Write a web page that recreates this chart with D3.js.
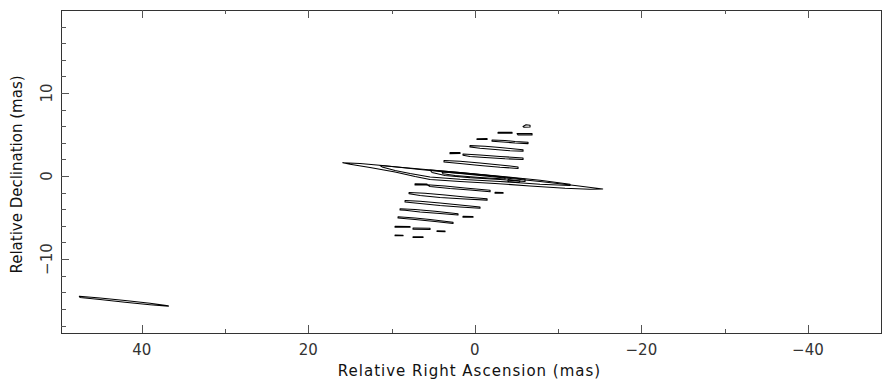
<!DOCTYPE html>
<html>
<head>
<meta charset="utf-8">
<script src="https://cdn.jsdelivr.net/npm/d3@7"></script>
<style>
  html, body { margin: 0; padding: 0; background: #fff; }
  svg { display: block; }
  .tick-label { font-family: "DejaVu Sans", sans-serif; font-size: 15px; fill: #333; }
  .axis-title { font-family: "DejaVu Sans", sans-serif; font-size: 15px; fill: #111; }
</style>
</head>
<body>
<div id="map"></div>
<script>
// tick values (mas)
var xMajorTicks = [40, 20, 0, -20, -40];
var xMinorTicks = [30, 10, -10, -30];
var yMajorTicks = [10, 0, -10];
var yMinorTicks = [18, 16, 14, 12, 8, 6, 4, 2, -2, -4, -6, -8, -12, -14, -16, -18];

// contour rings, [relative RA, relative Dec] in mas
var coreContours = [
  [[15.86, 1.61], [13.79, 1.51], [10.78, 1.24], [6.58, 0.79], [1.78, 0.31], [-3.03, -0.17], [-7.83, -0.65], [-12.03, -1.13], [-15.36, -1.55],
   [-13.83, -1.59], [-10.83, -1.47], [-6.63, -1.19], [-2.43, -0.89], [1.78, -0.65], [5.38, -0.41], [7.18, -0.05], [9.58, 0.49], [12.59, 1.04], [14.99, 1.42]],
  [[11.38, 1.28], [6.58, 0.86], [1.78, 0.43], [-3.03, -0.02], [-7.83, -0.51], [-11.43, -0.99],
   [-11.43, -1.13], [-7.83, -0.99], [-3.03, -0.65], [1.78, -0.39], [5.38, -0.11], [7.78, 0.31], [9.58, 0.67], [11.14, 1.10]],
  [[5.38, 0.73], [1.78, 0.41], [-3.03, -0.05], [-6.03, -0.39],
   [-6.03, -0.65], [-3.03, -0.41], [0.58, -0.19], [3.58, 0.07], [5.14, 0.43]],
  [[3.94, 0.49], [0.58, 0.25], [-1.83, 0.04], [-3.63, -0.17],
   [-3.63, -0.35], [-0.62, -0.17], [2.38, 0.07], [3.82, 0.28]],
  [[-3.99, -0.41], [-5.43, -0.59], [-5.31, -0.77], [-3.99, -0.65]]
];

var northStripes = [
  [[-5.79, 5.97], [-6.15, 6.18], [-6.63, 6.12], [-6.63, 5.91], [-5.91, 5.88]],
  [[-2.79, 5.28], [-4.47, 5.28], [-4.47, 5.15], [-2.79, 5.17]],
  [[-5.07, 5.11], [-6.87, 5.13], [-6.87, 4.95], [-5.19, 4.95]],
  [[-0.26, 4.50], [-1.47, 4.53], [-1.47, 4.41], [-0.26, 4.40]],
  [[-2.07, 4.35], [-3.63, 4.29], [-4.83, 4.17], [-6.39, 4.08], [-6.39, 3.91], [-4.83, 3.99], [-3.39, 4.11], [-2.07, 4.20]],
  [[0.58, 3.67], [-1.22, 3.59], [-3.03, 3.44], [-4.83, 3.26], [-5.79, 3.17], [-5.79, 3.00], [-4.23, 3.05], [-2.43, 3.20], [-0.62, 3.35], [0.58, 3.50]],
  [[2.98, 2.83], [1.78, 2.83], [1.78, 2.71], [2.98, 2.70]],
  [[1.42, 2.66], [-0.62, 2.54], [-3.03, 2.36], [-5.79, 2.18], [-5.79, 2.00], [-3.63, 2.08], [-1.22, 2.24], [0.58, 2.36], [1.42, 2.51]],
  [[3.70, 1.88], [1.78, 1.78], [-0.62, 1.58], [-3.03, 1.34], [-5.19, 1.10], [-5.19, 0.92], [-3.03, 1.06], [-0.62, 1.28], [1.78, 1.52], [3.70, 1.70]]
];

var southStripes = [
  [[7.18, -0.93], [5.74, -0.95], [5.74, -1.07], [7.18, -1.07]],
  [[5.74, -1.05], [3.58, -1.19], [1.18, -1.43], [-1.83, -1.71], [-1.83, -1.88], [0.58, -1.67], [2.98, -1.49], [5.38, -1.25]],
  [[-2.43, -1.95], [-3.39, -1.98], [-3.39, -2.07], [-2.43, -2.06]],
  [[7.90, -1.98], [5.98, -2.07], [3.58, -2.28], [1.18, -2.52], [-1.47, -2.73], [-1.47, -2.90], [1.18, -2.76], [4.18, -2.58], [6.58, -2.34], [7.90, -2.13]],
  [[8.38, -2.94], [6.58, -3.04], [4.18, -3.24], [1.78, -3.48], [-0.62, -3.72], [-0.62, -3.88], [1.78, -3.72], [4.18, -3.54], [6.58, -3.30], [8.38, -3.12]],
  [[8.98, -3.93], [7.18, -4.02], [4.78, -4.24], [2.02, -4.54], [2.02, -4.69], [4.18, -4.50], [6.58, -4.32], [8.38, -4.12], [8.98, -4.08]],
  [[1.42, -4.84], [0.22, -4.87], [0.22, -4.96], [1.42, -4.95]],
  [[9.22, -4.90], [7.18, -5.05], [5.38, -5.23], [2.62, -5.56], [2.62, -5.71], [4.78, -5.47], [7.18, -5.23], [9.22, -5.05]],
  [[9.58, -6.05], [7.78, -6.07], [7.78, -6.17], [9.58, -6.15]],
  [[7.42, -6.25], [5.38, -6.29], [5.38, -6.43], [7.42, -6.41]],
  [[4.54, -6.58], [3.58, -6.61], [3.58, -6.70], [4.54, -6.67]],
  [[9.58, -7.09], [8.62, -7.12], [8.62, -7.19], [9.58, -7.19]],
  [[7.42, -7.30], [6.22, -7.31], [6.22, -7.40], [7.42, -7.40]]
];

var southeastKnot = [
  [[47.50, -14.48], [45.01, -14.68], [42.01, -14.98], [39.01, -15.32], [36.81, -15.61],
   [36.81, -15.68], [39.01, -15.50], [42.01, -15.19], [45.01, -14.86], [47.41, -14.62]]
];

var width = 883, height = 381;
var margin = {top: 10, right: 1, bottom: 48, left: 61};
var plotW = width - margin.left - margin.right;
var plotH = height - margin.top - margin.bottom;

// RA increases to the left
var x = d3.scaleLinear().domain([49.7, -48.9]).range([0, plotW]);
var y = d3.scaleLinear().domain([-18.9, 20.0]).range([plotH, 0]);

var svg = d3.select("#map")
  .append("svg")
  .attr("width", width)
  .attr("height", height)
  .append("g")
  .attr("transform", "translate(" + margin.left + "," + margin.top + ")");

var ring = d3.line()
  .x(function(d) { return x(d[0]); })
  .y(function(d) { return y(d[1]); })
  .curve(d3.curveLinearClosed);

var allRings = coreContours.concat(northStripes, southStripes, southeastKnot);

svg.append("g")
  .selectAll("path")
  .data(allRings)
  .enter().append("path")
  .attr("d", ring)
  .attr("fill", "none")
  .attr("stroke", "#000")
  .attr("stroke-width", 1.1)
  .attr("stroke-linejoin", "round");

// frame
svg.append("rect")
  .attr("x", 0.5).attr("y", 0.5)
  .attr("width", plotW - 1).attr("height", plotH)
  .attr("fill", "none")
  .attr("stroke", "#333")
  .attr("stroke-width", 1);

var tickColor = "#555";

// x ticks, bottom and top
function xTicks(values, len) {
  svg.append("g").selectAll("line").data(values).enter().append("line")
    .attr("x1", function(d) { return Math.round(x(d)) + 0.5; })
    .attr("x2", function(d) { return Math.round(x(d)) + 0.5; })
    .attr("y1", plotH).attr("y2", plotH - len)
    .attr("stroke", tickColor);
  svg.append("g").selectAll("line").data(values).enter().append("line")
    .attr("x1", function(d) { return Math.round(x(d)) + 0.5; })
    .attr("x2", function(d) { return Math.round(x(d)) + 0.5; })
    .attr("y1", 0).attr("y2", len)
    .attr("stroke", tickColor);
}
xTicks(xMajorTicks, 8);
xTicks(xMinorTicks, 4);

// y ticks on the left
function yTicks(values, len) {
  svg.append("g").selectAll("line").data(values).enter().append("line")
    .attr("x1", 0).attr("x2", len)
    .attr("y1", function(d) { return Math.round(y(d)) + 0.5; })
    .attr("y2", function(d) { return Math.round(y(d)) + 0.5; })
    .attr("stroke", tickColor);
}
yTicks(yMajorTicks, 8);
yTicks(yMinorTicks, 5);

var fmt = function(d) { return d < 0 ? "\u2212" + Math.abs(d) : String(d); };

svg.append("g").selectAll("text").data(xMajorTicks).enter().append("text")
  .attr("class", "tick-label")
  .attr("x", function(d) { return x(d); })
  .attr("y", plotH + 22)
  .attr("text-anchor", "middle")
  .text(fmt);

svg.append("g").selectAll("text").data(yMajorTicks).enter().append("text")
  .attr("class", "tick-label")
  .attr("transform", function(d) { return "translate(-9," + y(d) + ") rotate(-90)"; })
  .attr("text-anchor", "middle")
  .text(fmt);

svg.append("text")
  .attr("class", "axis-title")
  .attr("x", plotW / 2 - 2)
  .attr("y", plotH + 43)
  .attr("text-anchor", "middle")
  .style("letter-spacing", "1px")
  .text("Relative Right Ascension (mas)");

svg.append("text")
  .attr("class", "axis-title")
  .attr("transform", "translate(-39," + (plotH / 2 + 3) + ") rotate(-90)")
  .attr("text-anchor", "middle")
  .text("Relative Declination (mas)");
</script>
</body>
</html>
